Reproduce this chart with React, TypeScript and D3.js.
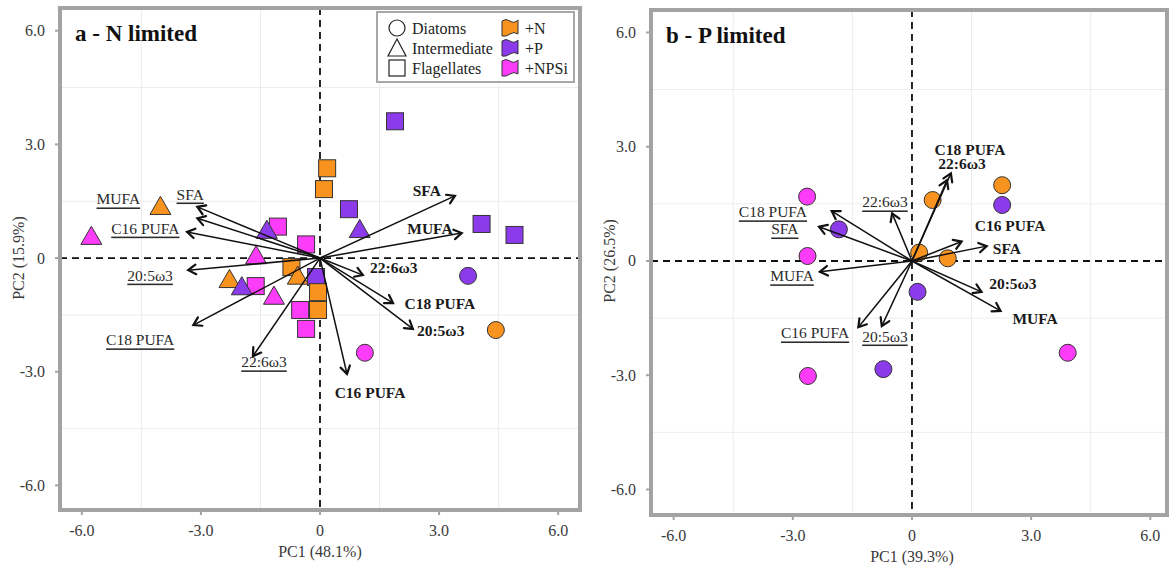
import React from 'react';
import * as d3 from 'd3';

// ---------- data ----------
const TICKS = [-6, -3, 0, 3, 6];
const TICK_LABELS = ['-6.0', '-3.0', '0', '3.0', '6.0'];
const GRID = [-4.5, -1.5, 1.5, 4.5];
const GROUPS = ['Diatoms', 'Intermediate', 'Flagellates'];
const TREATMENTS = ['+N', '+P', '+NPSi'];
const COLORS: Record<string, string> = { '+N': '#F7931E', '+P': '#8B3BEA', '+NPSi': '#FC3CF8' };

type Pt = { g: string; t: string; x: number; y: number };
type Ld = { name: string; x: number; y: number; lx: number; ly: number };

const pointsA: Pt[] = [
  { g: 'Flagellates', t: '+P', x: 1.89, y: 3.61 },
  { g: 'Flagellates', t: '+N', x: 0.18, y: 2.37 },
  { g: 'Flagellates', t: '+N', x: 0.1, y: 1.82 },
  { g: 'Flagellates', t: '+P', x: 0.73, y: 1.29 },
  { g: 'Flagellates', t: '+P', x: 4.07, y: 0.9 },
  { g: 'Flagellates', t: '+P', x: 4.9, y: 0.61 },
  { g: 'Flagellates', t: '+NPSi', x: -1.06, y: 0.83 },
  { g: 'Flagellates', t: '+NPSi', x: -0.35, y: 0.36 },
  { g: 'Flagellates', t: '+N', x: -0.72, y: -0.24 },
  { g: 'Flagellates', t: '+P', x: -0.1, y: -0.5 },
  { g: 'Flagellates', t: '+N', x: -0.05, y: -0.9 },
  { g: 'Flagellates', t: '+N', x: -0.05, y: -1.37 },
  { g: 'Flagellates', t: '+NPSi', x: -1.62, y: -0.74 },
  { g: 'Flagellates', t: '+NPSi', x: -0.5, y: -1.37 },
  { g: 'Flagellates', t: '+NPSi', x: -0.35, y: -1.87 },
  { g: 'Intermediate', t: '+N', x: -4.02, y: 1.35 },
  { g: 'Intermediate', t: '+NPSi', x: -5.76, y: 0.56 },
  { g: 'Intermediate', t: '+P', x: -1.34, y: 0.72 },
  { g: 'Intermediate', t: '+P', x: 1.0, y: 0.74 },
  { g: 'Intermediate', t: '+NPSi', x: -1.61, y: 0.05 },
  { g: 'Intermediate', t: '+N', x: -2.28, y: -0.58 },
  { g: 'Intermediate', t: '+P', x: -1.97, y: -0.77 },
  { g: 'Intermediate', t: '+N', x: -0.56, y: -0.49 },
  { g: 'Intermediate', t: '+NPSi', x: -1.16, y: -1.02 },
  { g: 'Diatoms', t: '+P', x: 3.73, y: -0.47 },
  { g: 'Diatoms', t: '+N', x: 4.43, y: -1.9 },
  { g: 'Diatoms', t: '+NPSi', x: 1.13, y: -2.5 },
];

const boldLoadingsA: Ld[] = [
  { name: 'SFA', x: 3.4, y: 1.64, lx: 2.69, ly: 1.79 },
  { name: 'MUFA', x: 3.57, y: 0.66, lx: 2.77, ly: 0.79 },
  { name: '22:6ω3', x: 1.08, y: -0.45, lx: 1.86, ly: -0.26 },
  { name: 'C18 PUFA', x: 1.84, y: -1.19, lx: 3.02, ly: -1.19 },
  { name: '20:5ω3', x: 2.34, y: -1.87, lx: 3.04, ly: -1.9 },
  { name: 'C16 PUFA', x: 0.68, y: -3.06, lx: 1.26, ly: -3.56 },
];
const underLoadingsA: Ld[] = [
  { name: 'SFA', x: -3.09, y: 1.35, lx: -3.27, ly: 1.69 },
  { name: 'MUFA', x: -3.09, y: 1.05, lx: -5.08, ly: 1.56 },
  { name: 'C16 PUFA', x: -3.35, y: 0.69, lx: -4.4, ly: 0.79 },
  { name: '20:5ω3', x: -3.32, y: -0.32, lx: -4.28, ly: -0.45 },
  { name: 'C18 PUFA', x: -3.19, y: -1.77, lx: -4.53, ly: -2.16 },
  { name: '22:6ω3', x: -1.69, y: -2.59, lx: -1.41, ly: -2.74 },
];

const pointsB: Pt[] = [
  { g: 'Diatoms', t: '+NPSi', x: -2.64, y: 1.69 },
  { g: 'Diatoms', t: '+P', x: -1.84, y: 0.83 },
  { g: 'Diatoms', t: '+NPSi', x: -2.63, y: 0.13 },
  { g: 'Diatoms', t: '+N', x: 0.52, y: 1.6 },
  { g: 'Diatoms', t: '+P', x: 0.14, y: -0.81 },
  { g: 'Diatoms', t: '+N', x: 2.27, y: 1.99 },
  { g: 'Diatoms', t: '+P', x: 2.27, y: 1.47 },
  { g: 'Diatoms', t: '+N', x: 0.9, y: 0.07 },
  { g: 'Diatoms', t: '+NPSi', x: 3.92, y: -2.41 },
  { g: 'Diatoms', t: '+P', x: -0.72, y: -2.84 },
  { g: 'Diatoms', t: '+NPSi', x: -2.62, y: -3.02 },
  { g: 'Diatoms', t: '+N', x: 0.18, y: 0.22 },
];

const boldLoadingsB: Ld[] = [
  { name: 'C18 PUFA', x: 0.98, y: 2.3, lx: 1.46, ly: 2.94 },
  { name: '22:6ω3', x: 0.88, y: 2.12, lx: 1.26, ly: 2.55 },
  { name: 'C16 PUFA', x: 1.25, y: 0.51, lx: 2.47, ly: 0.94 },
  { name: 'SFA', x: 1.88, y: 0.39, lx: 2.39, ly: 0.34 },
  { name: '20:5ω3', x: 1.75, y: -0.81, lx: 2.54, ly: -0.6 },
  { name: 'MUFA', x: 2.23, y: -1.31, lx: 3.1, ly: -1.5 },
];
const underLoadingsB: Ld[] = [
  { name: '22:6ω3', x: -0.5, y: 1.25, lx: -0.68, ly: 1.55 },
  { name: 'C18 PUFA', x: -2.02, y: 1.31, lx: -3.5, ly: 1.29 },
  { name: 'SFA', x: -2.34, y: 0.9, lx: -3.2, ly: 0.84 },
  { name: 'MUFA', x: -2.32, y: -0.28, lx: -3.02, ly: -0.39 },
  { name: 'C16 PUFA', x: -1.35, y: -1.74, lx: -2.44, ly: -1.89 },
  { name: '20:5ω3', x: -0.76, y: -1.71, lx: -0.68, ly: -1.97 },
];

// ---------- drawing ----------
const SERIF = '"Liberation Serif", "Times New Roman", serif';
const FRAME = '#a3a3a3';
const TEXT = '#3a3a3a';

function Marker({ g, cx, cy, fill }: { g: string; cx: number; cy: number; fill: string }) {
  const s = 8.5;
  if (g === 'Diatoms') return <circle cx={cx} cy={cy} r={8.5} fill={fill} stroke="#333" strokeWidth={1} />;
  if (g === 'Flagellates')
    return <rect x={cx - s} y={cy - s} width={2 * s} height={2 * s} fill={fill} stroke="#333" strokeWidth={1} />;
  const sym = d3.symbol(d3.symbolTriangle, 190)();
  return <path d={sym || ''} transform={`translate(${cx},${cy + 1.5})`} fill={fill} stroke="#333" strokeWidth={1} />;
}

function Arrow({ x1, y1, x2, y2 }: { x1: number; y1: number; x2: number; y2: number }) {
  const th = Math.atan2(y2 - y1, x2 - x1);
  const L = 9, ph = (32 * Math.PI) / 180;
  const a = [x2 - L * Math.cos(th - ph), y2 - L * Math.sin(th - ph)];
  const b = [x2 - L * Math.cos(th + ph), y2 - L * Math.sin(th + ph)];
  return (
    <g stroke="#111" fill="none" strokeLinecap="round" strokeLinejoin="miter">
      <line x1={x1} y1={y1} x2={x2} y2={y2} strokeWidth={1.5} />
      <path d={`M${a[0]},${a[1]}L${x2},${y2}L${b[0]},${b[1]}`} strokeWidth={2.2} />
    </g>
  );
}

type PanelProps = {
  left: number; right: number; top: number; bottom: number;
  xDom: [number, number]; yDom: [number, number];
  points: Pt[]; bold: Ld[]; under: Ld[];
  title: string; xTitle: string; yTitle: string; legend?: boolean;
};

function Panel(p: PanelProps) {
  const x = d3.scaleLinear().domain(p.xDom).range([p.left, p.right]);
  const y = d3.scaleLinear().domain(p.yDom).range([p.bottom, p.top]);
  const x0 = x(0), y0 = y(0);
  return (
    <g>
      <rect x={p.left} y={p.top} width={p.right - p.left} height={p.bottom - p.top} fill="#fff" />
      {GRID.map((v) => (
        <line key={'gx' + v} x1={x(v)} x2={x(v)} y1={p.top} y2={p.bottom} stroke="#ececec" strokeWidth={1} />
      ))}
      {GRID.map((v) => (
        <line key={'gy' + v} x1={p.left} x2={p.right} y1={y(v)} y2={y(v)} stroke="#ececec" strokeWidth={1} />
      ))}
      <line x1={p.left} x2={p.right} y1={y0} y2={y0} stroke="#111" strokeWidth={1.8} strokeDasharray="7,5" />
      <line x1={x0} x2={x0} y1={p.top} y2={p.bottom} stroke="#111" strokeWidth={1.8} strokeDasharray="7,5" />
      {p.points.map((d, i) => (
        <Marker key={i} g={d.g} cx={x(d.x)} cy={y(d.y)} fill={COLORS[d.t]} />
      ))}
      {[...p.bold, ...p.under].map((d, i) => (
        <Arrow key={'a' + i} x1={x0} y1={y0} x2={x(d.x)} y2={y(d.y)} />
      ))}
      {p.bold.map((d, i) => (
        <text key={'b' + i} x={x(d.lx)} y={y(d.ly)} textAnchor="middle" dominantBaseline="central"
          fontFamily={SERIF} fontWeight="bold" fontSize={15.5} fill="#1a1a1a">{d.name}</text>
      ))}
      {p.under.map((d, i) => (
        <text key={'u' + i} x={x(d.lx)} y={y(d.ly)} textAnchor="middle" dominantBaseline="central"
          fontFamily={SERIF} fontSize={15.5} fill="#2a2a2a" textDecoration="underline">{d.name}</text>
      ))}
      <rect x={p.left} y={p.top} width={p.right - p.left} height={p.bottom - p.top} fill="none" stroke={FRAME} strokeWidth={4} />
      {TICKS.map((v, i) => (
        <g key={'tx' + v}>
          <line x1={x(v)} x2={x(v)} y1={p.bottom} y2={p.bottom + 5} stroke={FRAME} strokeWidth={2} />
          <text x={x(v)} y={p.bottom + 26} textAnchor="middle" fontFamily={SERIF} fontSize={16} fill={TEXT}>{TICK_LABELS[i]}</text>
          <line x1={p.left} x2={p.left - 5} y1={y(v)} y2={y(v)} stroke={FRAME} strokeWidth={2} />
          <text x={p.left - 15} y={y(v)} textAnchor="end" dominantBaseline="central" fontFamily={SERIF} fontSize={16} fill={TEXT}>{TICK_LABELS[i]}</text>
        </g>
      ))}
      <text x={x0} y={p.bottom + 47} textAnchor="middle" fontFamily={SERIF} fontSize={16} fill={TEXT}>{p.xTitle}</text>
      <text transform={`translate(${p.left - 42},${y0}) rotate(-90)`} textAnchor="middle" dominantBaseline="central"
        fontFamily={SERIF} fontSize={16} fill={TEXT}>{p.yTitle}</text>
      <text x={p.left + 15} y={p.top + 33} fontFamily={SERIF} fontWeight="bold" fontSize={23} fill="#111">{p.title}</text>
      {p.legend && <Legend x0={p.right - 203} y0={p.top + 4} />}
    </g>
  );
}

function Flag({ x, y, fill }: { x: number; y: number; fill: string }) {
  const d = `M${x},${y + 2} Q${x + 4},${y - 1} ${x + 8},${y + 2} T${x + 16},${y + 1} L${x + 16},${y + 15} Q${x + 12},${y + 12} ${x + 8},${y + 15} T${x},${y + 17} Z`;
  return <path d={d} fill={fill} stroke="#333" strokeWidth={1} />;
}

function Legend({ x0, y0 }: { x0: number; y0: number }) {
  const rows = [16, 36, 56];
  return (
    <g>
      <rect x={x0} y={y0} width={197} height={70} fill="#fff" stroke="#a8a8a8" strokeWidth={2} />
      {GROUPS.map((g, i) => {
        const cy = y0 + rows[i];
        const cx = x0 + 20;
        return (
          <g key={g}>
            {g === 'Diatoms' && <circle cx={cx} cy={cy} r={8} fill="#fff" stroke="#222" strokeWidth={1.2} />}
            {g === 'Intermediate' && (
              <path d={`M${cx},${cy - 9} L${cx + 9},${cy + 8} L${cx - 9},${cy + 8} Z`} fill="#fff" stroke="#222" strokeWidth={1.2} />
            )}
            {g === 'Flagellates' && <rect x={cx - 8} y={cy - 8} width={16} height={16} fill="#fff" stroke="#222" strokeWidth={1.2} />}
            <text x={x0 + 35} y={cy} dominantBaseline="central" fontFamily={SERIF} fontSize={16} fill="#222">{g}</text>
          </g>
        );
      })}
      {TREATMENTS.map((t, i) => {
        const cy = y0 + rows[i];
        return (
          <g key={t}>
            <Flag x={x0 + 125} y={cy - 9} fill={COLORS[t]} />
            <text x={x0 + 148} y={cy} dominantBaseline="central" fontFamily={SERIF} fontSize={16} fill="#222">{t}</text>
          </g>
        );
      })}
    </g>
  );
}

export default function App() {
  return (
    <svg width={1171} height={567} style={{ position: 'absolute', left: 0, top: 0, display: 'block' }}
      xmlns="http://www.w3.org/2000/svg">
      <rect width={1171} height={567} fill="#fff" />
      <Panel left={60} right={580} top={8} bottom={510} xDom={[-6.55, 6.55]} yDom={[-6.65, 6.6]}
        points={pointsA} bold={boldLoadingsA} under={underLoadingsA}
        title="a - N limited" xTitle="PC1 (48.1%)" yTitle="PC2 (15.9%)" legend />
      <Panel left={651} right={1167} top={10} bottom={515} xDom={[-6.57, 6.42]} yDom={[-6.67, 6.59]}
        points={pointsB} bold={boldLoadingsB} under={underLoadingsB}
        title="b - P limited" xTitle="PC1 (39.3%)" yTitle="PC2 (26.5%)" />
    </svg>
  );
}
